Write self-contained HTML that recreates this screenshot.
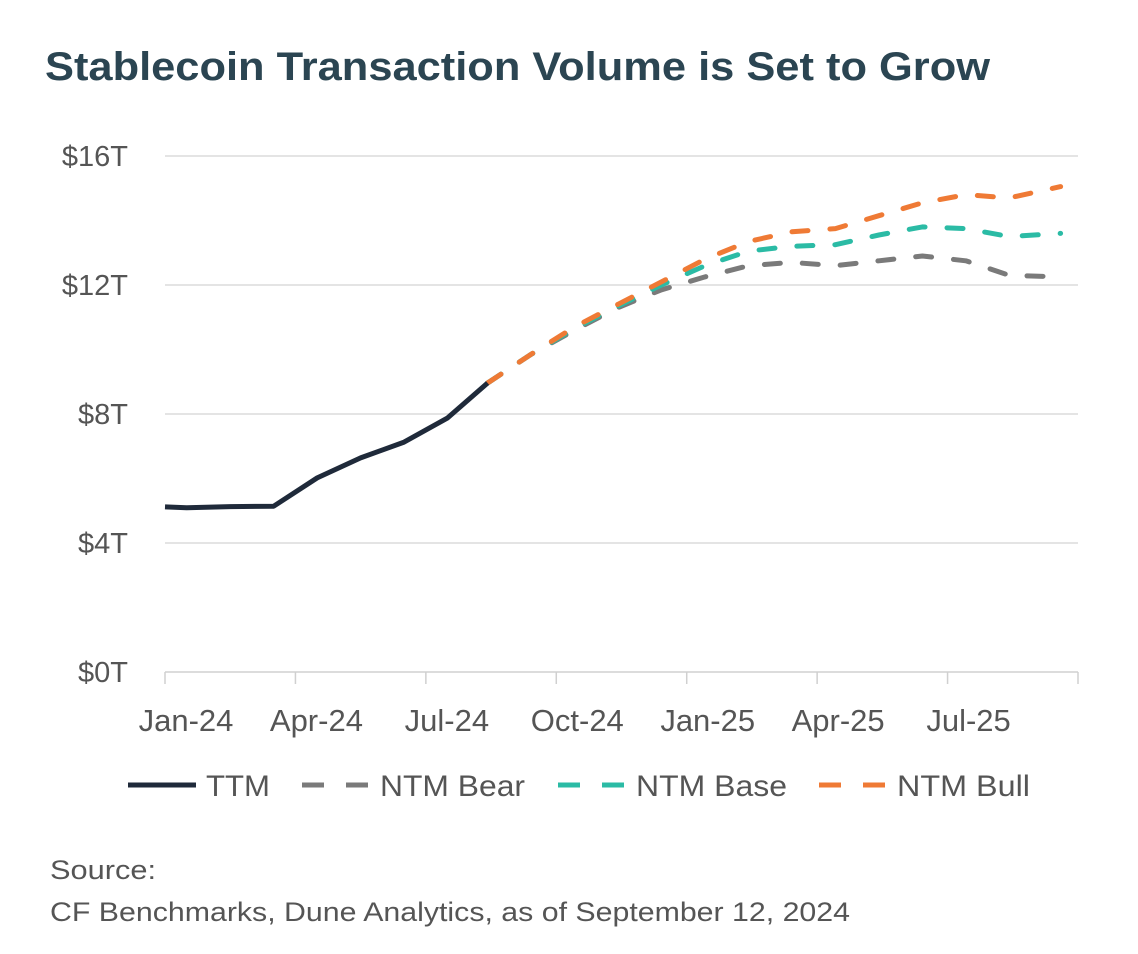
<!DOCTYPE html>
<html><head><meta charset="utf-8"><style>
body{margin:0;background:#fff;font-family:"Liberation Sans",sans-serif;}
svg{display:block}
</style></head><body>
<svg width="1138" height="954" viewBox="0 0 1138 954">
<text x="45" y="80" font-size="40" font-weight="bold" fill="#2b4552" textLength="945" lengthAdjust="spacingAndGlyphs">Stablecoin Transaction Volume is Set to Grow</text>
<g id="grid"></g>
<g id="axes"></g>
<g id="series"></g>
<g font-size="30" fill="#555">
 <g><line x1="128" y1="785" x2="196" y2="785" stroke="#1f2a3a" stroke-width="5"/><text x="206" y="796" textLength="64" lengthAdjust="spacingAndGlyphs">TTM</text></g>
 <g><line x1="302" y1="785" x2="368" y2="785" stroke="#7a7a7a" stroke-width="5" stroke-dasharray="22 22"/><text x="380" y="796" textLength="145" lengthAdjust="spacingAndGlyphs">NTM Bear</text></g>
 <g><line x1="558" y1="785" x2="624" y2="785" stroke="#2bbba5" stroke-width="5" stroke-dasharray="22 22"/><text x="636" y="796" textLength="151" lengthAdjust="spacingAndGlyphs">NTM Base</text></g>
 <g><line x1="819" y1="785" x2="885" y2="785" stroke="#ef7a35" stroke-width="5" stroke-dasharray="22 22"/><text x="897" y="796" textLength="133" lengthAdjust="spacingAndGlyphs">NTM Bull</text></g>
</g>
<text x="50" y="879" font-size="27" fill="#555" textLength="106" lengthAdjust="spacingAndGlyphs">Source:</text>
<text x="50" y="921" font-size="27" fill="#555" textLength="800" lengthAdjust="spacingAndGlyphs">CF Benchmarks, Dune Analytics, as of September 12, 2024</text>
</svg>
<script>
const yTicks=[0,4,8,12,16];
const xTickLabels=["Jan-24","Apr-24","Jul-24","Oct-24","Jan-25","Apr-25","Jul-25",""];
const ttmMonths=[0,0.5,1.5,2.5,3.5,4.5,5.5,6.5,7.42];
const ttmValues=[5.12,5.09,5.13,5.14,6.02,6.64,7.13,7.88,8.96];
const fcMonths=[7.42,8.42,9.42,10.42,11.42,12.42,13.42,14.42,15.42,16.42,17.42,18.42,19.42,20.6];
const bearValues=[8.96,9.85,10.6,11.3,11.85,12.25,12.6,12.7,12.6,12.75,12.9,12.75,12.3,12.25];
const baseValues=[8.96,9.85,10.65,11.35,12.0,12.6,13.05,13.2,13.25,13.55,13.8,13.75,13.5,13.6];
const bullValues=[8.96,9.85,10.7,11.4,12.1,12.8,13.35,13.65,13.75,14.15,14.55,14.8,14.7,15.05];
const NS="http://www.w3.org/2000/svg";
const X=m=>165+(m-0)*(1078-165)/21;
const Y=v=>672-v*(672-156)/16;
function mk(tag,attrs,parent){const e=document.createElementNS(NS,tag);for(const k in attrs)e.setAttribute(k,attrs[k]);parent.appendChild(e);return e;}
const grid=document.getElementById('grid'),axes=document.getElementById('axes'),series=document.getElementById('series');
yTicks.forEach(v=>{
 if(v>0){const l=mk('line',{x1:165,x2:1078,y1:Y(v),y2:Y(v),stroke:'#dcdcdc','stroke-width':1.5},grid);
 
 }
 const t=mk('text',{x:128,y:Y(v)+10,'text-anchor':'end','font-size':29,fill:'#555'},axes);t.textContent='$'+v+'T';
 
 
});
const ax=mk('line',{x1:165,x2:1078,y1:672,y2:672,stroke:'#d0d0d0','stroke-width':1.5},axes);


xTickLabels.forEach((lab,i)=>{
 const x=X(i*3);
 const tk=mk('line',{x1:x,x2:x,y1:672,y2:684,stroke:'#d0d0d0','stroke-width':1.5},axes);
 
 
 if(lab){const t=mk('text',{x:x+21,y:731,'text-anchor':'middle','font-size':31,fill:'#555'},axes);t.textContent=lab;
 
 }
});
function line(ms,vs,color,dash,name){
 const d=ms.map((m,i)=>(i?'L':'M')+X(m).toFixed(1)+' '+Y(vs[i]).toFixed(1)).join(' ');
 const p=mk('path',{d:d,fill:'none',stroke:color,'stroke-width':5,'stroke-linejoin':'round','stroke-linecap':dash?'round':'butt'},series);
 if(dash)p.setAttribute('stroke-dasharray',dash);
 
 
}
line(fcMonths,bearValues,'#7a7a7a','16 22','ntm-bear-line');
line(fcMonths,baseValues,'#2bbba5','16 22','ntm-base-line');
line(fcMonths,bullValues,'#ef7a35','16 22','ntm-bull-line');
line(ttmMonths,ttmValues,'#1f2a3a',null,'ttm-line');
</script>
</body></html>
